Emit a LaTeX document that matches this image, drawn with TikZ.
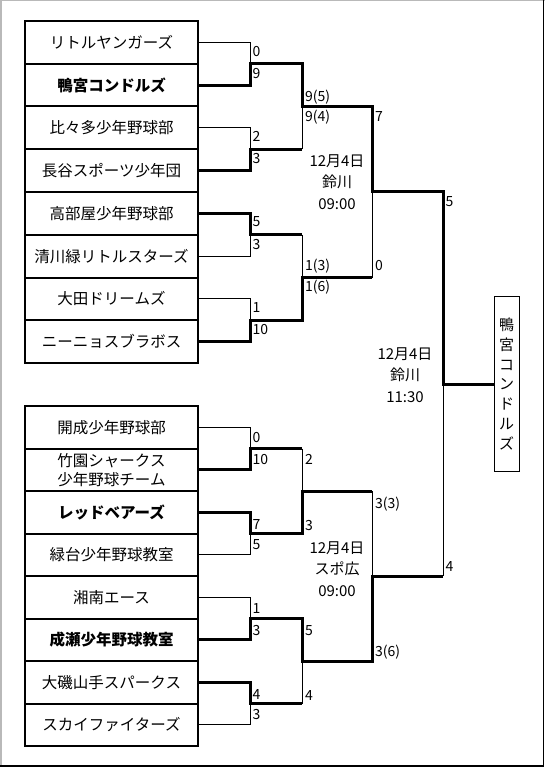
\documentclass[tikz,border=0pt]{standalone}
\usepackage{fontspec}
\setmainfont{Noto Sans CJK JP}
\begin{document}
\begin{tikzpicture}[x=1pt,y=-1pt,
  team/.style={draw,line width=2pt,minimum width=173pt,inner sep=0pt,align=center,font=\fontsize{15.5}{19}\selectfont},
  teamtop/.style={team,minimum height=42.75pt},
  teambot/.style={team,minimum height=42.5pt},
  boldname/.style={font=\fontsize{15.5}{19}\selectfont\bfseries},
  lo/.style={line width=1pt},
  hi/.style={line width=3pt},
  score/.style={anchor=west,inner sep=0pt,font=\fontsize{14}{16}\selectfont,text height=10pt,text depth=3pt},
  datebox/.style={align=center,inner sep=0pt,font=\fontsize{15}{21.5}\selectfont},
  champ/.style={draw,line width=1pt,minimum width=25pt,minimum height=175pt,inner sep=0pt,align=center,font=\fontsize{15}{19.8}\selectfont},
]
\useasboundingbox (0,0) rectangle (545,767);
\fill[white] (0,0) rectangle (545,767);
% frame
\draw[gray!55,line width=1.5pt] (0.75,767) -- (0.75,0.75) -- (545,0.75);
\draw[black,line width=1.5pt] (543.5,0) -- (543.5,765.75) -- (0,765.75);

% teams, upper block
\node[teamtop] (t1) at (111.5,42.375) {リトルヤンガーズ};
\node[teamtop,boldname] (t2) at (111.5,85.125) {鴨宮コンドルズ};
\node[teamtop] (t3) at (111.5,127.875) {比々多少年野球部};
\node[teamtop] (t4) at (111.5,170.625) {長谷スポーツ少年団};
\node[teamtop] (t5) at (111.5,213.375) {高部屋少年野球部};
\node[teamtop] (t6) at (111.5,256.125) {清川緑リトルスターズ};
\node[teamtop] (t7) at (111.5,298.875) {大田ドリームズ};
\node[teamtop] (t8) at (111.5,341.625) {ニーニョスブラボス};
% teams, lower block
\node[teambot] (t9) at (111.5,427.25) {開成少年野球部};
\node[teambot] (t10) at (111.5,469.75) {竹園シャークス\\少年野球チーム};
\node[teambot,boldname] (t11) at (111.5,512.25) {レッドベアーズ};
\node[teambot] (t12) at (111.5,554.75) {緑台少年野球教室};
\node[teambot] (t13) at (111.5,597.25) {湘南エース};
\node[teambot,boldname] (t14) at (111.5,639.75) {成瀬少年野球教室};
\node[teambot] (t15) at (111.5,682.25) {大磯山手スパークス};
\node[teambot] (t16) at (111.5,724.75) {スカイファイターズ};

% champion
\node[champ] (ch) at (506.5,384) {鴨\\宮\\コ\\ン\\ド\\ル\\ズ};

% junctions
\coordinate (m1) at (250,63.75);
\coordinate (m2) at (250,149.25);
\coordinate (m3) at (250,234.75);
\coordinate (m4) at (250,320.25);
\coordinate (m5) at (250,448.5);
\coordinate (m6) at (250,533.5);
\coordinate (m7) at (250,618.5);
\coordinate (m8) at (250,703.5);
\coordinate (r1) at (302,106.5);
\coordinate (r2) at (302,277.5);
\coordinate (r3) at (302,491);
\coordinate (r4) at (302,661);
\coordinate (s1) at (372,192);
\coordinate (s2) at (372,576);
\coordinate (f) at (443,384);

% losing first-round entries
\draw[lo] (t1.east) -| (m1);
\draw[lo] (t3.east) -| (m2);
\draw[lo] (t6.east) -| (m3);
\draw[lo] (t7.east) -| (m4);
\draw[lo] (t9.east) -| (m5);
\draw[lo] (t12.east) -| (m6);
\draw[lo] (t13.east) -| (m7);
\draw[lo] (t16.east) -| (m8);
% later losing verticals
\draw[lo] (m2 -| r1) -- (r1);
\draw[lo] (m3 -| r2) -- (r2);
\draw[lo] (r2 -| s1) -- (s1);
\draw[lo] (m5 -| r3) -- (r3);
\draw[lo] (m8 -| r4) -- (r4);
\draw[lo] (r3 -| s2) -- (s2);
\draw[lo] (s2 -| f) -- (f);
% winning paths
\draw[hi] (t2.east) -| (m1) -| (r1) -| (s1) -| (f) -- (ch);
\draw[hi] (t4.east) -| (m2) -- (m2 -| r1);
\draw[hi] (t5.east) -| (m3) -- (m3 -| r2);
\draw[hi] (t8.east) -| (m4) -| (r2) -- (r2 -| s1);
\draw[hi] (t10.east) -| (m5) -- (m5 -| r3);
\draw[hi] (t11.east) -| (m6) -| (r3) -- (r3 -| s2);
\draw[hi] (t14.east) -| (m7) -| (r4) -| (s2) -- (s2 -| f);
\draw[hi] (t15.east) -| (m8) -- (m8 -| r4);

% scores
\node[score] (a1) at (252.5,53.5) {0};
\node[score] (a2) at (252.5,75) {9};
\node[score] (a3) at (252.5,138.5) {2};
\node[score] (a4) at (252.5,160.5) {3};
\node[score] (a5) at (252.5,223) {5};
\node[score] (a6) at (252.5,246) {3};
\node[score] (a7) at (252.5,308.5) {1};
\node[score] (a8) at (252.5,331) {10};
\node[score] (a9) at (252.5,439) {0};
\node[score] (a10) at (252.5,461) {10};
\node[score] (a11) at (252.5,525.5) {7};
\node[score] (a12) at (252.5,546) {5};
\node[score] (a13) at (252.5,609.5) {1};
\node[score] (a14) at (252.5,632) {3};
\node[score] (a15) at (252.5,696) {4};
\node[score] (a16) at (252.5,716) {3};
\node[score] (b1) at (305,98) {9(5)};
\node[score] (b2) at (305,118) {9(4)};
\node[score] (b3) at (305,267) {1(3)};
\node[score] (b4) at (305,288) {1(6)};
\node[score] (b5) at (305,461) {2};
\node[score] (b6) at (305,527) {3};
\node[score] (b7) at (305,632) {5};
\node[score] (b8) at (305,697) {4};
\node[score] (c1) at (375,118) {7};
\node[score] (c2) at (375,267) {0};
\node[score] (c3) at (375,505) {3(3)};
\node[score] (c4) at (375,653) {3(6)};
\node[score] (d1) at (445.5,203) {5};
\node[score] (d2) at (445.5,568) {4};

% dates
\node[datebox] (dt1) at (337,182) {12月4日\\鈴川\\09:00};
\node[datebox] (dt2) at (405,375) {12月4日\\鈴川\\11:30};
\node[datebox] (dt3) at (337,569) {12月4日\\スポ広\\09:00};
\end{tikzpicture}
\end{document}
